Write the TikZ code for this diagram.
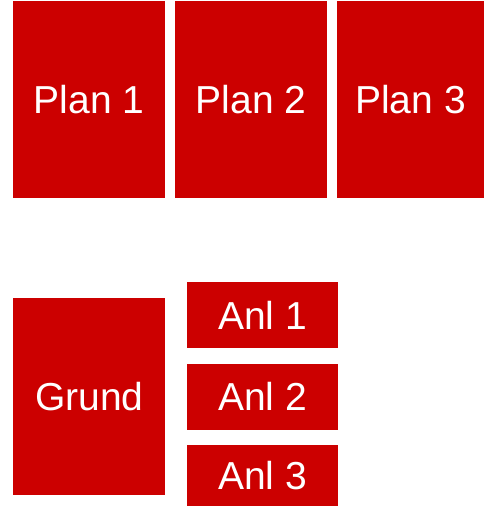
\documentclass[tikz,border=0pt]{standalone}
\usepackage{fontspec}
\setmainfont{Liberation Sans}
\usetikzlibrary{positioning}
\definecolor{planred}{HTML}{CC0000}

\begin{document}
\begin{tikzpicture}[
    x=1pt, y=-1pt,
    node distance=9.5pt and 9.5pt,
    box/.style={fill=planred, text=white, inner sep=0pt, minimum width=152pt, minimum height=197pt, font=\fontsize{39}{41}\selectfont},
    anlbox/.style={box, minimum width=151pt, minimum height=66pt}
  ]
    \useasboundingbox (0,0) rectangle (484,506);
    \node[box, anchor=north west] (plan1) at (13,1) {Plan 1};
    \node[box, right=of plan1] (plan2) {Plan 2};
    \node[box, right=of plan2, minimum width=147pt] (plan3) {Plan 3};
    \node[box, anchor=north west] (grund) at (13,298) {Grund};
    \node[anlbox, anchor=north west] (anl1) at (187,282) {Anl 1};
    \node[anlbox, below=15pt of anl1] (anl2) {Anl 2};
    \node[anlbox, below=15pt of anl2, minimum height=62pt] (anl3) {Anl 3};
  \end{tikzpicture}
\end{document}
